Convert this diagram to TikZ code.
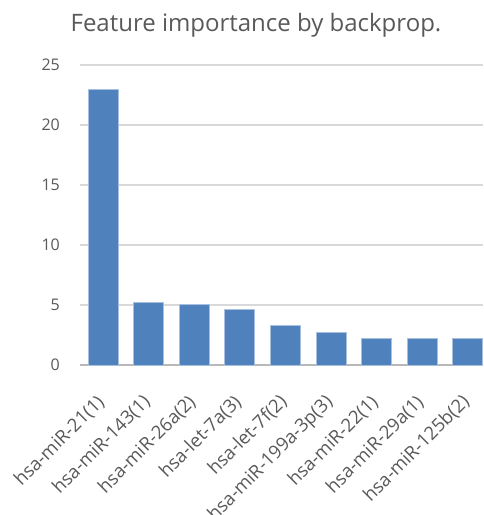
\documentclass[tikz,border=0pt]{standalone}
\usepackage{fontspec}
\setmainfont{Open Sans}
\usetikzlibrary{calc}
\definecolor{barre}{HTML}{4F81BD}
\definecolor{bord}{HTML}{A7C0DE}
\definecolor{grille}{HTML}{D9D9D9}
\definecolor{texte}{HTML}{595959}
\begin{document}
\begin{tikzpicture}[x=1pt,y=1pt,line join=round,text=texte,font=\fontsize{16}{18}\selectfont]
				\useasboundingbox (0,0) rectangle (483,515);
				\path (80,150) coordinate (O) % pied de l'axe
				(483,150) coordinate (E);
				\node[anchor=base,font=\fontsize{24}{28}\selectfont] (titre) at (256,483.3) {Feature importance by backprop.};
				\foreach \v in {5,10,...,25}{\draw[grille,line width=1.2pt] ($(O)+(0,12*\v)$)--($(E)+(0,12*\v)$);}
				\draw[color=black!28,line width=1.2pt] (O)--(E); % axe
				\foreach \v in {0,5,...,25}{\node[anchor=east,inner sep=0] (t\v) at ($(O)+(-20,12*\v)$) {\v};}
				\foreach \i/\y/\x in {0/23/{hsa-miR-21(1)},1/5.2/{hsa-miR-143(1)},2/5.07/{hsa-miR-26a(2)},3/4.6/{hsa-let-7a(3)},4/3.33/{hsa-let-7f(2)},5/2.75/{hsa-miR-199a-3p(3)},6/2.22/{hsa-miR-22(1)},7/2.22/{hsa-miR-29a(1)},8/2.22/{hsa-miR-125b(2)}
				}{\draw[fill=barre,draw=bord,line width=0.7pt] (88+45.6*\i,150) rectangle ++(30,12*\y);
				\node[rotate=45,anchor=base east,inner sep=0,font=\fontsize{18.5}{22}\selectfont] (lab\i) at (105.5+45.6*\i,112) {\x};}
		\end{tikzpicture}
\end{document}
